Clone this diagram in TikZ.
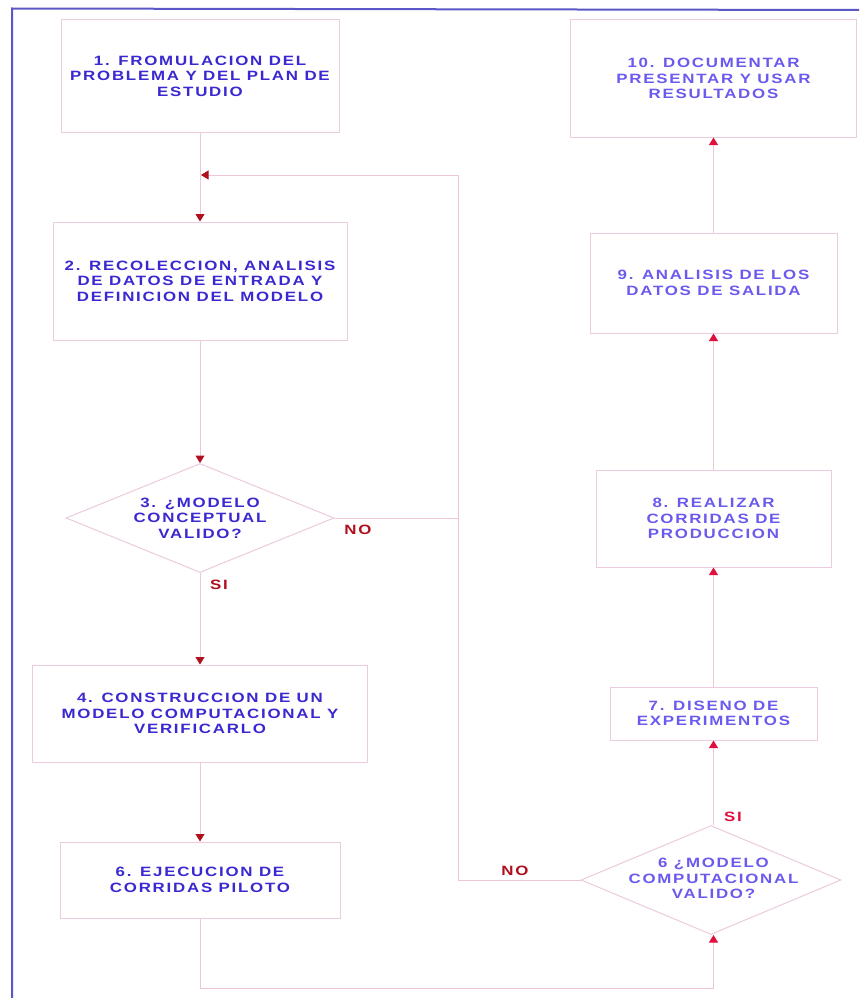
\documentclass[tikz,border=0pt]{standalone}
\usepackage{fontspec}
\setmainfont{Liberation Sans}
\newfontfamily\boxfont[FakeStretch=1.25,LetterSpace=13]{Liberation Sans}
\usetikzlibrary{shapes.geometric,arrows.meta}

\definecolor{frameblue}{HTML}{5A58C8}
\definecolor{edgepink}{HTML}{EBCBDD}
\definecolor{linkpink}{HTML}{EFC6D6}
\definecolor{txtdeep}{HTML}{3A28D0}
\definecolor{txtlight}{HTML}{6A5AEE}
\definecolor{tipdark}{HTML}{B0101E}
\definecolor{tiplight}{HTML}{E0103E}

\tikzset{
  every node/.style={font=\boxfont\bfseries\fontsize{13.5}{15.4}\selectfont},
  stepbox/.style={draw=edgepink, line width=1pt, fill=white, inner sep=0pt,
    align=center, rectangle},
  decision/.style={draw=edgepink, line width=1pt, fill=white, diamond,
    inner sep=0pt},
  question/.style={inner sep=0pt, align=center},
  deep/.style={text=txtdeep},
  light/.style={text=txtlight},
  link/.style={draw=linkpink, line width=1pt},
  flowL/.style={link, arrows={-{Triangle[color=tipdark,width=9pt,length=7.5pt]}}},
  flowR/.style={link, arrows={-{Triangle[color=tiplight,width=9pt,length=7.5pt]}}},
  answerL/.style={text=tipdark},
  answerR/.style={text=tiplight},
}

\begin{document}
\begin{tikzpicture}[x=1pt,y=-1pt]
\useasboundingbox[fill=white] (0,0) rectangle (859,998);

% outer frame
\draw[frameblue, line width=2pt] (12,998) -- (12,8.5) -- (859,10);

% left column
\node[stepbox, deep, minimum width=278, minimum height=112] (s1) at (200,76)
  {1. FROMULACION DEL\\PROBLEMA Y DEL PLAN DE\\ESTUDIO};
\node[stepbox, deep, minimum width=294, minimum height=118] (s2) at (200,281)
  {2. RECOLECCION, ANALISIS\\DE DATOS DE ENTRADA Y\\DEFINICION DEL MODELO};
\node[decision, minimum width=268, minimum height=109] (d3) at (200,518) {};
\node[question, deep] (q3) at (d3.center) {3. ¿MODELO\\CONCEPTUAL\\VALIDO?};
\node[stepbox, deep, minimum width=335, minimum height=97] (s4) at (200,713.5)
  {4. CONSTRUCCION DE UN\\MODELO COMPUTACIONAL Y\\VERIFICARLO};
\node[stepbox, deep, minimum width=280, minimum height=76] (s5) at (200,880)
  {6. EJECUCION DE\\CORRIDAS PILOTO};

% right column
\node[stepbox, light, minimum width=286, minimum height=117] (s10) at (713.5,78.5)
  {10. DOCUMENTAR\\PRESENTAR Y USAR\\RESULTADOS};
\node[stepbox, light, minimum width=247, minimum height=100] (s9) at (713.5,283)
  {9. ANALISIS DE LOS\\DATOS DE SALIDA};
\node[stepbox, light, minimum width=235, minimum height=97] (s8) at (713.5,518.5)
  {8. REALIZAR\\CORRIDAS DE\\PRODUCCION};
\node[stepbox, light, minimum width=207, minimum height=53] (s7) at (713.5,713.5)
  {7. DISENO DE\\EXPERIMENTOS};
\node[decision, minimum width=260, minimum height=109] (d6) at (711,880) {};
\node[question, light] (q6) at (713.5,878.5) {6 ¿MODELO\\COMPUTACIONAL\\VALIDO?};

% routing points
\coordinate (merge) at (201,175);
\coordinate (backbus) at (458,175);
\coordinate (bottom) at (200,988);

% connectors, left column
\draw[flowL] (s1.south) -- (s2.north);
\draw[flowL] (s2.south) -- (d3.north);
\draw[flowL] (d3.south) -- (s4.north);
\draw[flowL] (s4.south) -- (s5.north);
\draw[link] (d3.east) -- (d3.east -| backbus);
\draw[flowL] (d6.west) -| (backbus) -- (merge);

% connectors, right column
\draw[flowR] (s5.south) -- (bottom) -| (q6.center |- d6.south);
\draw[flowR] (q6.center |- d6.north) -- (s7.south);
\draw[flowR] (s7.north) -- (s8.south);
\draw[flowR] (s8.north) -- (s9.south);
\draw[flowR] (s9.north) -- (s10.south);

% branch labels
\node[answerL] (no3) at (358,530) {NO};
\node[answerL] (si3) at (219,585) {SI};
\node[answerR] (si6) at (733,817) {SI};
\node[answerL] (no6) at (515,871) {NO};
\end{tikzpicture}
\end{document}
